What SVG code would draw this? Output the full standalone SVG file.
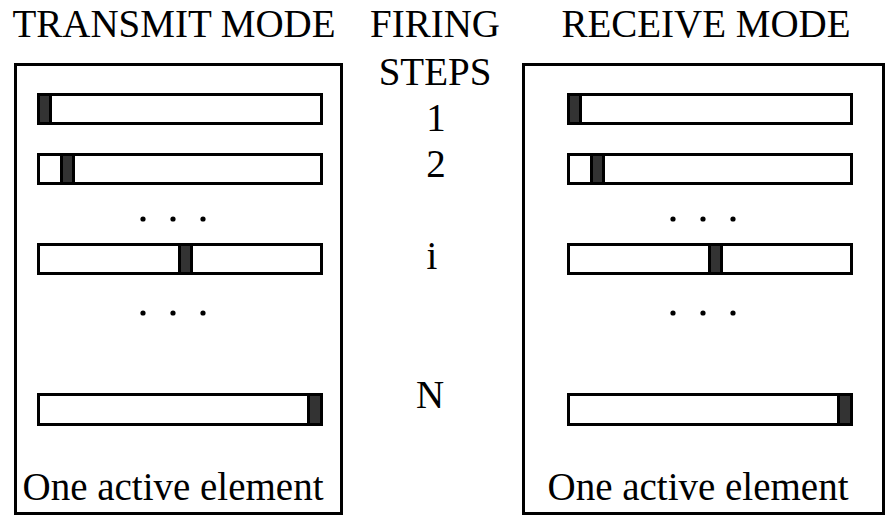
<svg xmlns="http://www.w3.org/2000/svg" width="892" height="517" viewBox="0 0 892 517">
<style>
.t{font-size:39px;fill:#000;text-anchor:middle}
.box{fill:#fff;stroke:#000;stroke-width:3}
.bar{fill:#fff;stroke:#000;stroke-width:3}
.on{fill:#333;stroke:#000;stroke-width:3}
.dot{fill:#000}
</style>
<rect width="892" height="517" fill="#fff"/>
<g id="titles" font-family="Liberation Serif, DejaVu Serif, serif">
<text class="t" x="174" y="37">TRANSMIT MODE</text>
<text class="t" x="435" y="37">FIRING</text>
<text class="t" x="435" y="85">STEPS</text>
<text class="t" x="706" y="37">RECEIVE MODE</text>
</g>
<g id="steps" font-family="Liberation Serif, DejaVu Serif, serif">
<text class="t" x="436" y="131">1</text>
<text class="t" x="436" y="177">2</text>
<text class="t" x="432" y="269">i</text>
<text class="t" x="430" y="408">N</text>
</g>
<g id="transmit" font-family="Liberation Serif, DejaVu Serif, serif">
<rect class="box" x="15.5" y="64.5" width="326" height="449"/>
<rect class="bar" x="38.5" y="94.5" width="283" height="29"/>
<rect class="on" x="38.5" y="94.5" width="12" height="29"/>
<rect class="bar" x="38.5" y="154.5" width="283" height="29"/>
<rect class="on" x="61.5" y="154.5" width="12" height="29"/>
<circle class="dot" cx="143" cy="219" r="2.6"/>
<circle class="dot" cx="173" cy="219" r="2.6"/>
<circle class="dot" cx="203" cy="219" r="2.6"/>
<rect class="bar" x="38.5" y="244.5" width="283" height="29"/>
<rect class="on" x="179.5" y="244.5" width="12" height="29"/>
<circle class="dot" cx="143" cy="313" r="2.6"/>
<circle class="dot" cx="173" cy="313" r="2.6"/>
<circle class="dot" cx="203" cy="313" r="2.6"/>
<rect class="bar" x="38.5" y="394.5" width="283" height="30"/>
<rect class="on" x="308.5" y="394.5" width="13" height="30"/>
<text class="t" x="173" y="500">One active element</text>
</g>
<g id="receive" font-family="Liberation Serif, DejaVu Serif, serif">
<rect class="box" x="523.5" y="64.5" width="360" height="449"/>
<rect class="bar" x="568.5" y="94.5" width="283" height="29"/>
<rect class="on" x="568.5" y="94.5" width="12" height="29"/>
<rect class="bar" x="568.5" y="154.5" width="283" height="29"/>
<rect class="on" x="591.5" y="154.5" width="12" height="29"/>
<circle class="dot" cx="673" cy="219" r="2.6"/>
<circle class="dot" cx="703" cy="219" r="2.6"/>
<circle class="dot" cx="733" cy="219" r="2.6"/>
<rect class="bar" x="568.5" y="244.5" width="283" height="29"/>
<rect class="on" x="709.5" y="244.5" width="12" height="29"/>
<circle class="dot" cx="673" cy="313" r="2.6"/>
<circle class="dot" cx="703" cy="313" r="2.6"/>
<circle class="dot" cx="733" cy="313" r="2.6"/>
<rect class="bar" x="568.5" y="394.5" width="283" height="30"/>
<rect class="on" x="838.5" y="394.5" width="13" height="30"/>
<text class="t" x="698" y="500">One active element</text>
</g>
<g id="connectors"></g>
</svg>
